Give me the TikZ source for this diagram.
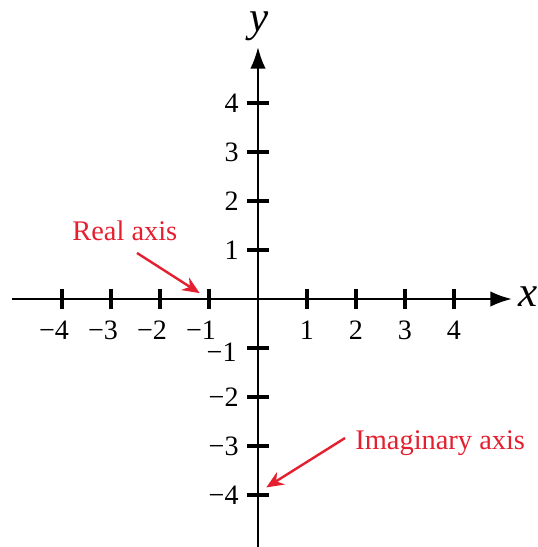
\documentclass[tikz,border=0pt]{standalone}
\usepackage{fontspec}
\setmainfont{Liberation Serif}
\usetikzlibrary{arrows.meta}
\definecolor{redlab}{RGB}{228,32,48}
\tikzset{
  axis/.style={line width=1.2pt, -{Latex[length=12.5pt,width=9pt]}},
  tick/.style={line width=1.9pt},
  ticklab/.style={inner sep=0pt, font=\fontsize{16.3}{19}\selectfont},
  redlab/.style={inner sep=0pt, text=redlab, font=\fontsize{16.5}{19}\selectfont},
  redarrow/.style={redlab, draw=redlab, line width=1.4pt, -{Stealth[length=10pt,width=8.5pt]}},
  axlab/.style={inner sep=0pt, font=\fontsize{25}{28}\selectfont\itshape}
}
\begin{document}
\begin{tikzpicture}[x=1cm,y=1cm]
\useasboundingbox (-5.265,-5.061) rectangle (5.714,6.102);
% axes
\coordinate (xl) at (-5.02,0);
\coordinate (xr) at (5.18,0);
\coordinate (yb) at (0,-5.07);
\coordinate (yt) at (0,5.14);
\draw[axis] (xl) -- (xr);
\draw[axis] (yb) -- (yt);
% ticks
\foreach \i in {-4,-3,-2,-1,1,2,3,4}{
  \coordinate (xt\i a) at (\i,0.21);
  \coordinate (xt\i b) at (\i,-0.21);
  \draw[tick] (xt\i a) -- (xt\i b);
  \coordinate (yt\i a) at (-0.22,\i);
  \coordinate (yt\i b) at (0.22,\i);
  \draw[tick] (yt\i a) -- (yt\i b);
}
% x tick labels
\foreach \i in {1,2,3,4}{
  \node[ticklab, anchor=base] (xlab\i) at (\i,-0.83) {\i};
}
\foreach \i in {1,2,3,4}{
  \node[ticklab, anchor=base] (xlabm\i) at (-\i,-0.83) {\makebox[0pt][r]{−}\i};
}
% y tick labels
\foreach \i in {1,2,3,4}{
  \node[ticklab, anchor=east] (ylab\i) at (-0.39,\i) {\i};
}
\node[ticklab, anchor=east] (ylabm1) at (-0.43,-1.09) {−1};
\foreach \i in {2,3,4}{
  \node[ticklab, anchor=east] (ylabm\i) at (-0.39,-\i) {−\i};
}
% axis labels
\node[axlab, anchor=base] (ylabel) at (0.02,5.45) {y};
\node[axlab, anchor=base west] (xlabel) at (5.30,-0.163) {x};
% red annotations
\node[redlab, anchor=base west] (real) at (-3.796,1.184) {Real axis};
\coordinate (reals) at (-2.469,0.939);
\coordinate (reale) at (-1.19,0.12);
\draw[redarrow] (reals) -- (reale);
\node[redlab, anchor=base west] (imag) at (1.98,-3.08) {Imaginary axis};
\coordinate (imags) at (1.776,-2.837);
\coordinate (image) at (0.17,-3.845);
\draw[redarrow] (imags) -- (image);
\end{tikzpicture}
\end{document}
